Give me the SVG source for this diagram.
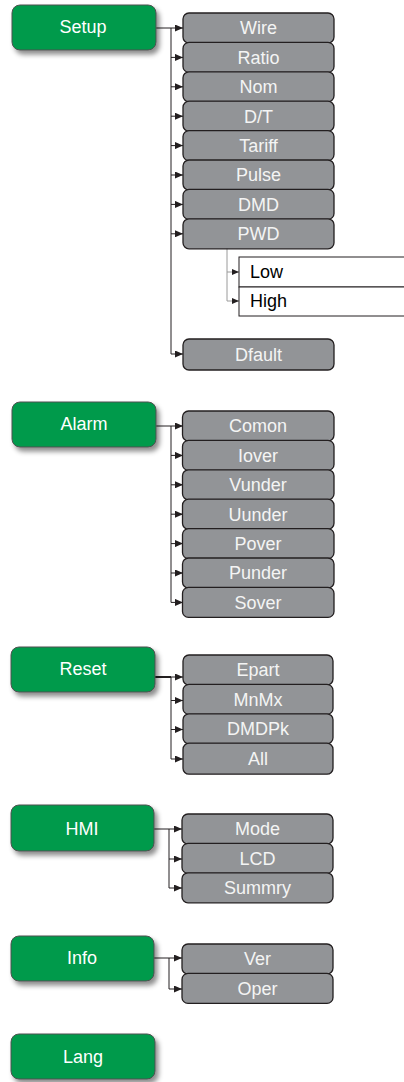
<svg xmlns="http://www.w3.org/2000/svg" width="404" height="1082" viewBox="0 0 404 1082">
<style>
.g rect{fill:#009a4b;stroke:#505050;stroke-width:1;filter:url(#sh)}
.g text{fill:#fff;font-family:'Liberation Sans',Arial,sans-serif;font-size:18px;text-anchor:middle}
.c rect{fill:#929497;stroke:#231f20;stroke-width:1.3}
.c text{fill:#f4f4f4;font-family:'Liberation Sans',Arial,sans-serif;font-size:18px;text-anchor:middle}
.w rect{fill:#fff;stroke:#231f20;stroke-width:1}
.w text{fill:#000;font-family:'Liberation Sans',Arial,sans-serif;font-size:18px}
.ln{fill:none;stroke:#231f20;stroke-width:1}
.ln path.a{marker-end:url(#ar)}
.sub{fill:none;stroke:#9a9a9a;stroke-width:1;}
.sub path.a{marker-end:url(#ars)}
</style>
<defs>
<filter id="sh" x="-10%" y="-20%" width="130%" height="160%">
<feDropShadow dx="3" dy="4" stdDeviation="2.5" flood-color="#000" flood-opacity="0.45"/>
</filter>
<marker id="ar" markerUnits="userSpaceOnUse" markerWidth="8" markerHeight="7" refX="8" refY="3.5" orient="auto">
<path d="M0,0 L8,3.5 L0,7 Z" fill="#231f20"/>
</marker>
<marker id="ars" markerUnits="userSpaceOnUse" markerWidth="7" markerHeight="6" refX="7" refY="3" orient="auto">
<path d="M0,0 L7,3 L0,6 Z" fill="#231f20"/>
</marker>
</defs>

<g id="connectors">
<g class="ln">
<!-- Setup -->
<path d="M156,28 H171 V354"/>
<path class="a" d="M171,28 H183"/>
<path class="a" d="M171,57.4 H183"/>
<path class="a" d="M171,86.8 H183"/>
<path class="a" d="M171,116.2 H183"/>
<path class="a" d="M171,145.6 H183"/>
<path class="a" d="M171,175 H183"/>
<path class="a" d="M171,204.4 H183"/>
<path class="a" d="M171,233.8 H183"/>
<path class="a" d="M171,354 H183"/>
<!-- Alarm -->
<path d="M156,426 H171 V602.4"/>
<path class="a" d="M171,426 H183"/>
<path class="a" d="M171,455.4 H183"/>
<path class="a" d="M171,484.8 H183"/>
<path class="a" d="M171,514.2 H183"/>
<path class="a" d="M171,543.6 H183"/>
<path class="a" d="M171,573 H183"/>
<path class="a" d="M171,602.4 H183"/>
<!-- Reset -->
<path d="M155,677 H171" stroke-width="2"/>
<path d="M171,677 V759"/>
<path class="a" d="M171,677 H183"/>
<path class="a" d="M171,700.5 H183"/>
<path class="a" d="M171,729.5 H183"/>
<path class="a" d="M171,759 H183"/>
<!-- HMI -->
<path d="M154,829 H169 V888"/>
<path class="a" d="M169,829 H182"/>
<path class="a" d="M169,859 H182"/>
<path class="a" d="M169,888 H182"/>
<!-- Info -->
<path d="M154,958 H169 V989"/>
<path class="a" d="M169,958 H182"/>
<path class="a" d="M169,989 H182"/>
</g>
<g class="sub">
<path d="M227,248 V301"/>
<path class="a" d="M227,272 H239"/>
<path class="a" d="M227,301 H239"/>
</g>
</g>

<g id="setup" class="g"><rect x="12" y="5" width="144" height="45" rx="8"/><text x="83" y="33">Setup</text></g>
<g id="alarm" class="g"><rect x="12" y="402" width="144" height="45" rx="8"/><text x="84" y="430">Alarm</text></g>
<g id="reset" class="g"><rect x="11" y="647" width="144" height="45" rx="8"/><text x="83" y="675">Reset</text></g>
<g id="hmi" class="g"><rect x="11" y="805" width="143" height="46" rx="8"/><text x="82" y="835">HMI</text></g>
<g id="info" class="g"><rect x="11" y="936" width="143" height="45" rx="8"/><text x="82" y="964">Info</text></g>
<g id="lang" class="g"><rect x="11" y="1034" width="144" height="45" rx="8"/><text x="83" y="1063">Lang</text></g>

<g id="wire" class="c"><rect x="183" y="13" width="151" height="30" rx="6"/><text x="258.5" y="34.3">Wire</text></g>
<g id="ratio" class="c"><rect x="183" y="42.4" width="151" height="30" rx="6"/><text x="258.5" y="63.7">Ratio</text></g>
<g id="nom" class="c"><rect x="183" y="71.8" width="151" height="30" rx="6"/><text x="258.5" y="93.1">Nom</text></g>
<g id="dt" class="c"><rect x="183" y="101.2" width="151" height="30" rx="6"/><text x="258.5" y="122.5">D/T</text></g>
<g id="tariff" class="c"><rect x="183" y="130.6" width="151" height="30" rx="6"/><text x="258.5" y="151.9">Tariff</text></g>
<g id="pulse" class="c"><rect x="183" y="160" width="151" height="30" rx="6"/><text x="258.5" y="181.3">Pulse</text></g>
<g id="dmd" class="c"><rect x="183" y="189.4" width="151" height="30" rx="6"/><text x="258.5" y="210.7">DMD</text></g>
<g id="pwd" class="c"><rect x="183" y="218.8" width="151" height="30" rx="6"/><text x="258.5" y="240.1">PWD</text></g>
<g id="lowhigh" class="w"><rect x="239" y="257" width="175" height="30"/><rect x="239" y="287" width="175" height="29"/><text x="250" y="278">Low</text><text x="250" y="307">High</text></g>
<g id="dfault" class="c"><rect x="183" y="339" width="151" height="31" rx="6"/><text x="258.5" y="360.8">Dfault</text></g>

<g id="comon" class="c"><rect x="182.5" y="411" width="151.5" height="30" rx="6"/><text x="258" y="432.3">Comon</text></g>
<g id="iover" class="c"><rect x="182.5" y="440.4" width="151.5" height="30" rx="6"/><text x="258" y="461.7">Iover</text></g>
<g id="vunder" class="c"><rect x="182.5" y="469.8" width="151.5" height="30" rx="6"/><text x="258" y="491.1">Vunder</text></g>
<g id="uunder" class="c"><rect x="182.5" y="499.2" width="151.5" height="30" rx="6"/><text x="258" y="520.5">Uunder</text></g>
<g id="pover" class="c"><rect x="182.5" y="528.6" width="151.5" height="30" rx="6"/><text x="258" y="549.9">Pover</text></g>
<g id="punder" class="c"><rect x="182.5" y="558" width="151.5" height="30" rx="6"/><text x="258" y="579.3">Punder</text></g>
<g id="sover" class="c"><rect x="182.5" y="587.4" width="151.5" height="30" rx="6"/><text x="258" y="608.7">Sover</text></g>

<g id="epart" class="c"><rect x="183" y="655" width="150" height="30" rx="6"/><text x="258" y="676.3">Epart</text></g>
<g id="mnmx" class="c"><rect x="183" y="684.4" width="150" height="30" rx="6"/><text x="258" y="705.7">MnMx</text></g>
<g id="dmdpk" class="c"><rect x="183" y="713.8" width="150" height="30" rx="6"/><text x="258" y="735.1">DMDPk</text></g>
<g id="all" class="c"><rect x="183" y="743.2" width="150" height="31" rx="6"/><text x="258" y="765">All</text></g>

<g id="mode" class="c"><rect x="182" y="814" width="151" height="30" rx="6"/><text x="257.5" y="835.3">Mode</text></g>
<g id="lcd" class="c"><rect x="182" y="843.4" width="151" height="30" rx="6"/><text x="257.5" y="864.7">LCD</text></g>
<g id="summry" class="c"><rect x="182" y="872.8" width="151" height="30" rx="6"/><text x="257.5" y="894.1">Summry</text></g>

<g id="ver" class="c"><rect x="182" y="944" width="151" height="30" rx="6"/><text x="257.5" y="965.3">Ver</text></g>
<g id="oper" class="c"><rect x="182" y="973.4" width="151" height="30" rx="6"/><text x="257.5" y="994.7">Oper</text></g>
</svg>
